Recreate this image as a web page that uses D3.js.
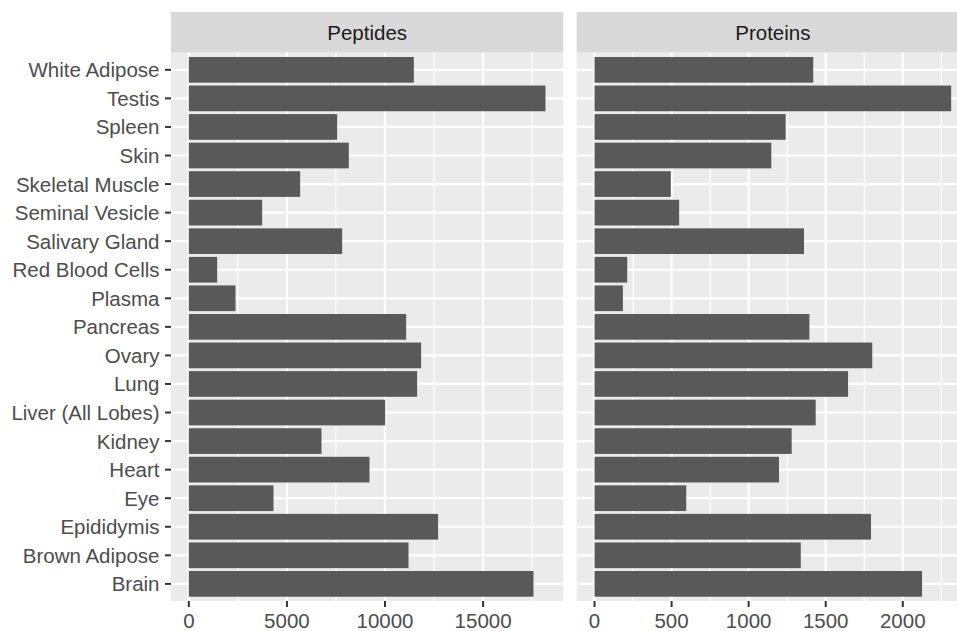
<!DOCTYPE html>
<html>
<head>
<meta charset="utf-8">
<script src="https://cdn.jsdelivr.net/npm/d3@7"></script>
<style>
  html, body { margin: 0; padding: 0; background: #ffffff; }
  svg { display: block; }
  text { font-family: "Liberation Sans", Arial, Helvetica, sans-serif; }
</style>
</head>
<body>
<svg id="chart" width="957" height="631"></svg>
<script>
// ---- data ----
const tissues = ["White Adipose","Testis","Spleen","Skin","Skeletal Muscle","Seminal Vesicle",
  "Salivary Gland","Red Blood Cells","Plasma","Pancreas","Ovary","Lung","Liver (All Lobes)",
  "Kidney","Heart","Eye","Epididymis","Brown Adipose","Brain"];
const peptides = [11470,18180,7560,8155,5674,3737,7815,1444,2379,11078,11842,11638,10007,
  6762,9209,4316,12707,11198,17569];
const proteins = [1419,2314,1240,1147,495,549,1359,212,184,1394,1802,1645,1435,
  1279,1197,595,1794,1338,2125];
const facetNames = ["Peptides","Proteins"];
const peptideTicks = [0,5000,10000,15000];
const proteinTicks = [0,500,1000,1500,2000];

// ---- layout ----
const svg = d3.select("#chart");
const stripTop = 12, stripH = 40.7;
const panelTop = stripTop + stripH, panelBottom = 601;
const panelW = 392.3;
const panelLefts = [171, 576.7];
const fontSize = 20.5;

const y = d3.scaleBand()
  .domain(tissues)
  .range([panelTop, panelBottom])
  .paddingInner(0.1)
  .paddingOuter(0.15);

const facets = [
  { name: facetNames[0], values: peptides, ticks: peptideTicks, minorStep: 2500 },
  { name: facetNames[1], values: proteins, ticks: proteinTicks, minorStep: 250 }
];

facets.forEach((f, i) => {
  const left = panelLefts[i], right = left + panelW;
  const maxV = d3.max(f.values);
  const exp = 0.05 * maxV;
  const x = d3.scaleLinear().domain([-exp, maxV + exp]).range([left, right]);

  const g = svg.append("g");
  // strip
  g.append("rect").attr("x", left).attr("y", stripTop).attr("width", panelW).attr("height", stripH)
    .attr("fill", "#D9D9D9");
  g.append("text").attr("x", left + panelW / 2).attr("y", stripTop + stripH / 2)
    .attr("text-anchor", "middle").attr("dominant-baseline", "central")
    .attr("font-size", fontSize).attr("fill", "#1A1A1A").text(f.name);

  // panel bg
  g.append("rect").attr("x", left).attr("y", panelTop).attr("width", panelW)
    .attr("height", panelBottom - panelTop).attr("fill", "#EBEBEB");

  // minor grid
  const minor = d3.range(0, maxV + exp, f.minorStep)
    .filter(v => x(v) <= right && (v / f.minorStep) % 2 === 1);
  g.selectAll(".minor").data(minor).join("line")
    .attr("x1", d => x(d)).attr("x2", d => x(d)).attr("y1", panelTop).attr("y2", panelBottom)
    .attr("stroke", "#FFFFFF").attr("stroke-width", 1.1);

  // major grid vertical
  const majorAll = d3.range(0, maxV + exp, f.minorStep * 2).filter(v => x(v) <= right);
  g.selectAll(".majorx").data(majorAll).join("line")
    .attr("x1", d => x(d)).attr("x2", d => x(d)).attr("y1", panelTop).attr("y2", panelBottom)
    .attr("stroke", "#FFFFFF").attr("stroke-width", 2.2);

  // major grid horizontal
  g.selectAll(".majory").data(tissues).join("line")
    .attr("x1", left).attr("x2", right)
    .attr("y1", d => y(d) + y.bandwidth() / 2).attr("y2", d => y(d) + y.bandwidth() / 2)
    .attr("stroke", "#FFFFFF").attr("stroke-width", 2.2);

  // bars
  g.selectAll(".bar").data(tissues).join("rect")
    .attr("x", x(0))
    .attr("y", d => y(d))
    .attr("width", (d, k) => x(f.values[k]) - x(0))
    .attr("height", y.bandwidth())
    .attr("fill", "#595959");

  // bottom axis ticks
  g.selectAll(".xtick").data(f.ticks).join("line")
    .attr("x1", d => x(d)).attr("x2", d => x(d)).attr("y1", panelBottom).attr("y2", panelBottom + 6)
    .attr("stroke", "#333333").attr("stroke-width", 2);
  g.selectAll(".xlab").data(f.ticks).join("text")
    .attr("x", d => x(d)).attr("y", 627.5)
    .attr("text-anchor", "middle").attr("font-size", fontSize).attr("fill", "#4D4D4D")
    .text(d => d3.format("d")(d));

  if (i === 0) {
    // left axis
    g.selectAll(".ytick").data(tissues).join("line")
      .attr("x1", left - 6).attr("x2", left)
      .attr("y1", d => y(d) + y.bandwidth() / 2).attr("y2", d => y(d) + y.bandwidth() / 2)
      .attr("stroke", "#333333").attr("stroke-width", 2);
    g.selectAll(".ylab").data(tissues).join("text")
      .attr("x", left - 11.5).attr("y", d => y(d) + y.bandwidth() / 2)
      .attr("text-anchor", "end").attr("dominant-baseline", "central")
      .attr("font-size", fontSize).attr("fill", "#4D4D4D").text(d => d);
  }
});
</script>
</body>
</html>
